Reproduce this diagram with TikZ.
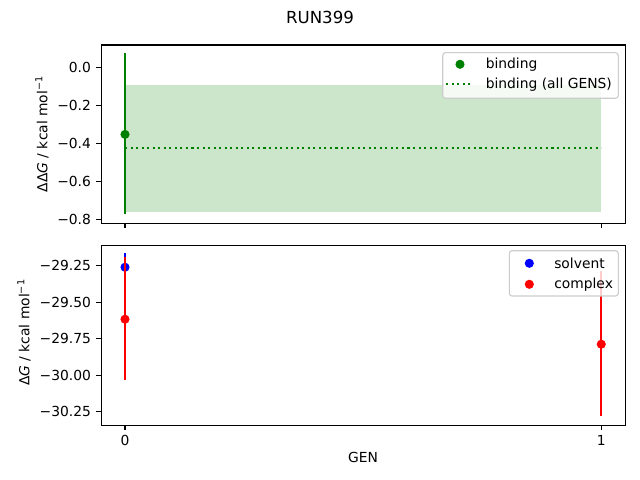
\documentclass[tikz,border=0pt]{standalone}
\usepackage{fontspec}
\setmainfont{DejaVu Sans}
\usetikzlibrary{positioning}
\definecolor{mplgreen}{RGB}{0,128,0}
\definecolor{mplblue}{RGB}{0,0,255}
\definecolor{mplred}{RGB}{255,0,0}
\definecolor{legendedge}{gray}{0.8}
\tikzset{%
	spine/.style     = {draw, line width=0.8pt}, % axes frame
	tickmark/.style  = {line width=0.8pt},
	ticklabel/.style = {font=\fontsize{10}{12}\selectfont, inner sep=0pt},
	axislabel/.style = {font=\fontsize{10}{12}\selectfont, inner sep=0pt},
	errbar/.style    = {line width=1.5pt},
	dotmark/.style   = {radius=3.3pt},
	legendbox/.style = {draw=legendedge, fill=white, fill opacity=0.8, line width=0.8pt, rounded corners=2pt},
	legendtext/.style= {font=\fontsize{10}{12}\selectfont, inner sep=0pt, anchor=west},
}
\begin{document}
\begin{tikzpicture}[x=0.01in, y=-0.01in]
	\useasboundingbox (0,0) rectangle (640,480);
	% title and axis labels
	\node[font=\fontsize{12}{14}\selectfont, inner sep=0pt] (title) at (320,17) {RUN399};
	\node[axislabel] (genlabel) at (363,457) {GEN};
	\node[axislabel, rotate=90] (ddglabel) at (42,134) {ΔΔ\textit{G} / kcal mol\textsuperscript{−1}};
	\node[axislabel, rotate=90] (dglabel) at (24,332.5) {Δ\textit{G} / kcal mol\textsuperscript{−1}};
	% upper panel: binding
	\begin{scope}[shift={(125,67.3)}, x=4.76in, y=1.9in]
		\fill[mplgreen, fill opacity=0.2] (0,-0.093) rectangle (1,-0.759);
		\draw[mplgreen, line width=1.5pt, dash pattern=on 1.5pt off 2.5pt] (0,-0.424) -- (1,-0.424);
		\draw[errbar, mplgreen] (0,0.073) -- (0,-0.773);
		\fill[mplgreen] (0,-0.353) circle[dotmark];
		\draw[spine] (-0.05,0.1174) rectangle (1.05,-0.821);
		\foreach \v/\lab in {0/0.0, -0.2/−0.2, -0.4/−0.4, -0.6/−0.6, -0.8/−0.8}
			\draw[tickmark] (-0.05,\v) -- ++(-3.5pt,0) node[ticklabel, left=3.5pt] {\lab};
		\foreach \g in {0,1}
			\draw[tickmark] (\g,-0.821) -- ++(0,-3.5pt);
	\end{scope}
	% lower panel: solvent and complex
	\begin{scope}[shift={(125,-4007.2)}, x=4.76in, y=1.46in]
		\draw[errbar, mplblue] (0,-29.164) -- (0,-29.356);
		\fill[mplblue] (0,-29.26) circle[dotmark];
		\draw[errbar, mplred] (0,-29.193) -- (0,-30.03);
		\draw[errbar, mplred] (1,-29.284) -- (1,-30.28);
		\fill[mplred] (0,-29.616) circle[dotmark];
		\fill[mplred] (1,-29.787) circle[dotmark];
		\draw[spine] (-0.05,-29.113) rectangle (1.05,-30.3418);
		\foreach \v/\lab in {-29.25/−29.25, -29.5/−29.50, -29.75/−29.75, -30/−30.00, -30.25/−30.25}
			\draw[tickmark] (-0.05,\v) -- ++(-3.5pt,0) node[ticklabel, left=3.5pt] {\lab};
		\foreach \g in {0,1}
			\draw[tickmark] (\g,-30.3418) -- ++(0,-3.5pt) node[ticklabel, below=3.5pt] {\g};
	\end{scope}
	% legends
	\draw[legendbox] (442.7,52.7) rectangle (618.3,98.3);
	\fill[mplgreen] (460,64.3) circle[dotmark];
	\draw[mplgreen, line width=1.5pt, dash pattern=on 1.5pt off 2.5pt] (446,84.3) -- (473.3,84.3);
	\node[legendtext] (bindtext) at (485.5,64.3) {binding};
	\node[legendtext] (alltext) at (485.5,84.3) {binding (all GENS)};
	\draw[legendbox] (509.3,250.7) rectangle (618.3,296);
	\fill[mplblue] (529.3,263.3) circle[dotmark];
	\fill[mplred] (529.3,284.3) circle[dotmark];
	\node[legendtext] (solvtext) at (554,263.3) {solvent};
	\node[legendtext] (cplxtext) at (554,284.3) {complex};
\end{tikzpicture}
\end{document}
